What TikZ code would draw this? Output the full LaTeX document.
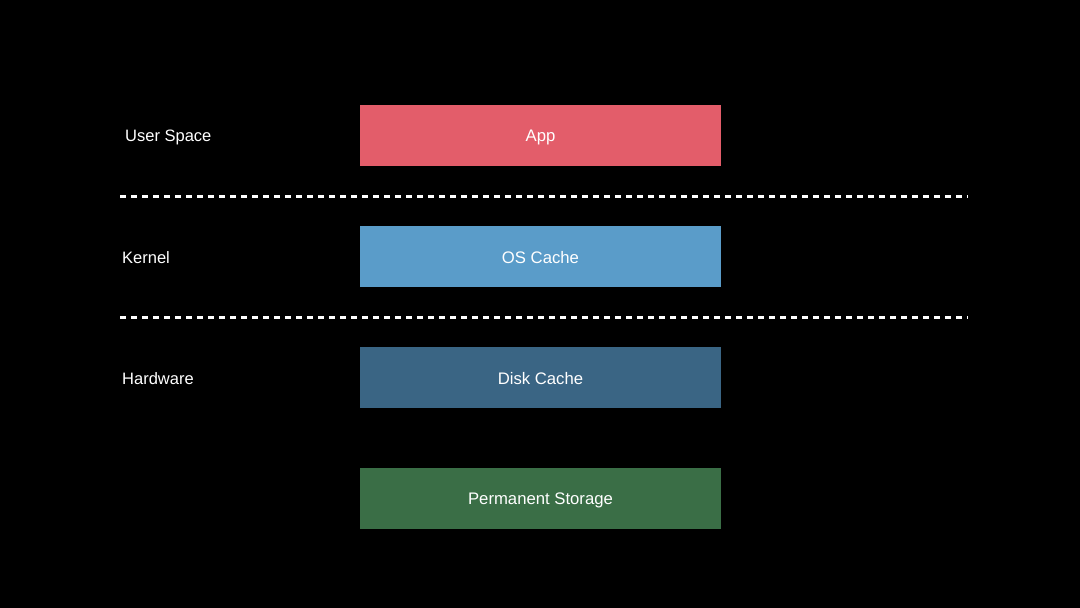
\documentclass[tikz,border=0pt]{standalone}
\usepackage{fontspec}
\setmainfont{Liberation Sans}
\definecolor{appc}{HTML}{E35D6A}
\definecolor{osc}{HTML}{5A9CC9}
\definecolor{diskc}{HTML}{3A6584}
\definecolor{permc}{HTML}{3A6E46}
\begin{document}
\begin{tikzpicture}[x=1pt,y=-1pt,
  layer/.style={minimum width=361pt,minimum height=61pt,inner sep=0pt},
  ltext/.style={inner sep=0pt,text=white,font=\fontsize{16.7}{19}\selectfont},
  lbl/.style={anchor=west,inner sep=0pt,text=white,font=\fontsize{16.5}{19}\selectfont},
  sep/.style={white,line width=3pt,dash pattern=on 6pt off 5pt}]
\fill[black] (0,0) rectangle (1080,608);
\useasboundingbox (0,0) rectangle (1080,608);
\node[layer,fill=appc] (app) at (540.5,135.5) {};
\node[layer,fill=osc] (os) at (540.5,256.5) {};
\node[layer,fill=diskc] (disk) at (540.5,377.5) {};
\node[layer,fill=permc] (perm) at (540.5,498.5) {};
\node[ltext] (appt) at ([yshift=-2pt]app.center) {App};
\node[ltext] (ost) at ([yshift=-1.5pt]os.center) {OS Cache};
\node[ltext] (diskt) at ([yshift=-1.5pt]disk.center) {Disk Cache};
\node[ltext] (permt) at ([yshift=-2pt]perm.center) {Permanent Storage};
\node[lbl] (us) at (125,137.5) {User Space};
\node[lbl] (kern) at (122,258) {Kernel};
\node[lbl] (hw) at (122,379) {Hardware};
\coordinate (d1a) at (120,196);
\coordinate (d1b) at (968,196);
\coordinate (d2a) at (120,317);
\coordinate (d2b) at (968,317);
\draw[sep] (d1a) -- (d1b);
\draw[sep] (d2a) -- (d2b);
\end{tikzpicture}
\end{document}
